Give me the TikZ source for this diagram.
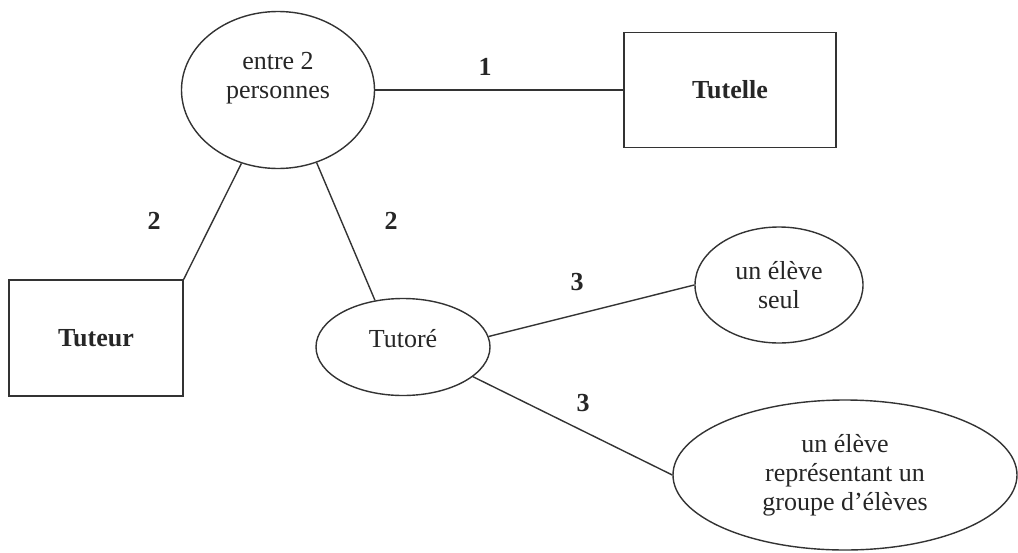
\documentclass[tikz,border=0pt]{standalone}
\usepackage{fontspec}
\setmainfont{Liberation Serif}
\usetikzlibrary{shapes.geometric}
\begin{document}
\begin{tikzpicture}[x=.5pt,y=-.5pt,line width=.7pt,draw=black!80,
    every node/.style={font=\fontsize{13}{14.5}\selectfont,text=black!85,inner sep=0pt},
    bulle/.style={draw=black!80,ellipse,align=center},
    boite/.style={draw=black!80,rectangle,font=\fontsize{13}{14.5}\selectfont\bfseries},
    card/.style={font=\fontsize{13}{14.5}\selectfont\bfseries}]
    % Relations du tutorat : bulles, boîtes et cardinalités.
    \useasboundingbox (0,0) rectangle (1018,552);

    \node[bulle,minimum width=96.5pt,minimum height=78.5pt] (entre) at (278,90) {entre 2\\personnes\\~};
    \node[boite,minimum width=106pt,minimum height=57.5pt] (tutelle) at (730,90) {Tutelle};
    \node[boite,minimum width=87pt,minimum height=58pt] (tuteur) at (96,338) {Tuteur};
    \node[bulle,minimum width=87pt,minimum height=48.5pt,text depth=9pt] (tutore) at (403,347) {Tutoré};
    \node[bulle,minimum width=84pt,minimum height=58pt] (seul) at (779,285) {un élève\\seul};
    \node[bulle,minimum width=172pt,minimum height=75pt] (groupe) at (845,475) {un élève\\représentant un\\groupe d’élèves};

    \draw (entre.east) -- (tutelle.west);
    \draw (tuteur.north east) -- (entre);
    \draw (entre.298) -- (tutore.121);
    \draw (tutore.7) -- (seul.west);
    \draw (tutore.337) -- (groupe.west);

    \node[card] (c1) at (485,67) {1};
    \node[card] (c2a) at (154,221) {2};
    \node[card] (c2b) at (391,221) {2};
    \node[card] (c3a) at (577,282) {3};
    \node[card] (c3b) at (583,403) {3};
\end{tikzpicture}
\end{document}
